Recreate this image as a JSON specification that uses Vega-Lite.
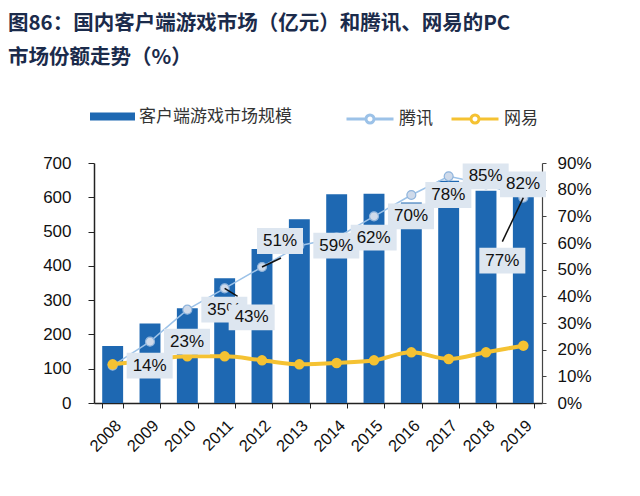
{
  "$schema": "https://vega.github.io/schema/vega-lite/v6.json",
  "width": 448,
  "height": 240,
  "autosize": {"type": "none"},
  "padding": {"left": 94, "top": 163, "right": 98, "bottom": 93},
  "background": "white",
  "config": {"font": "Liberation Sans", "view": {"stroke": null}},
  "title": {
    "text": ["图86：国内客户端游戏市场（亿元）和腾讯、网易的PC", "市场份额走势（%）"],
    "anchor": "start",
    "frame": "group",
    "dx": -86,
    "offset": 26,
    "font": "Noto Sans CJK SC",
    "fontSize": 20.5,
    "fontWeight": "bold",
    "color": "#1b2b4b",
    "lineHeight": 34
  },
  "datasets": {
    "market": [
      {"year": "2008", "market": 166},
      {"year": "2009", "market": 232},
      {"year": "2010", "market": 276},
      {"year": "2011", "market": 364},
      {"year": "2012", "market": 449},
      {"year": "2013", "market": 536},
      {"year": "2014", "market": 609},
      {"year": "2015", "market": 610},
      {"year": "2016", "market": 585},
      {"year": "2017", "market": 648},
      {"year": "2018", "market": 619},
      {"year": "2019", "market": 615}
    ],
    "share": [
      {"year": "2008", "company": "腾讯", "share": 14, "label": "14%"},
      {"year": "2009", "company": "腾讯", "share": 23, "label": "23%"},
      {"year": "2010", "company": "腾讯", "share": 35, "label": "35%"},
      {"year": "2011", "company": "腾讯", "share": 43, "label": "43%"},
      {"year": "2012", "company": "腾讯", "share": 51, "label": "51%"},
      {"year": "2013", "company": "腾讯", "share": 59, "label": "59%"},
      {"year": "2014", "company": "腾讯", "share": 62, "label": "62%"},
      {"year": "2015", "company": "腾讯", "share": 70, "label": "70%"},
      {"year": "2016", "company": "腾讯", "share": 78, "label": "78%"},
      {"year": "2017", "company": "腾讯", "share": 85, "label": "85%"},
      {"year": "2018", "company": "腾讯", "share": 82, "label": "82%"},
      {"year": "2019", "company": "腾讯", "share": 77, "label": "77%"},
      {"year": "2008", "company": "网易", "share": 14.5},
      {"year": "2009", "company": "网易", "share": 16},
      {"year": "2010", "company": "网易", "share": 17.5},
      {"year": "2011", "company": "网易", "share": 17.5},
      {"year": "2012", "company": "网易", "share": 16},
      {"year": "2013", "company": "网易", "share": 14.5},
      {"year": "2014", "company": "网易", "share": 15},
      {"year": "2015", "company": "网易", "share": 16},
      {"year": "2016", "company": "网易", "share": 19},
      {"year": "2017", "company": "网易", "share": 16.5},
      {"year": "2018", "company": "网易", "share": 19},
      {"year": "2019", "company": "网易", "share": 21.5}
    ]
  },
  "encoding": {
    "x": {
      "field": "year",
      "type": "ordinal",
      "scale": {"paddingInner": 0.44, "paddingOuter": 0.22},
      "axis": {
        "title": null,
        "labelAngle": -45,
        "labelFontSize": 16.5,
        "labelColor": "#111",
        "labelPadding": 9,
        "labelOverlap": false,
        "tickBand": "extent",
        "tickColor": "#222",
        "tickSize": 5,
        "domainColor": "#222",
        "domainWidth": 1.5
      }
    }
  },
  "layer": [
    {
      "data": {"name": "market"},
      "mark": {"type": "bar"},
      "encoding": {
        "y": {
          "field": "market",
          "type": "quantitative",
          "scale": {"domain": [0, 700]},
          "axis": {
            "title": null,
            "values": [0, 100, 200, 300, 400, 500, 600, 700],
            "grid": false,
            "labelOverlap": false,
            "labelFontSize": 17,
            "labelColor": "#111",
            "tickSize": 6,
            "labelPadding": 17,
            "tickColor": "#222",
            "domainColor": "#222",
            "domainWidth": 1.5
          }
        },
        "color": {
          "datum": "客户端游戏市场规模",
          "type": "nominal",
          "scale": {"range": ["#1e68b2"]},
          "legend": {
            "orient": "none",
            "legendX": -4,
            "legendY": -69,
            "title": null,
            "padding": 0,
            "symbolType": "M-1,-0.18H1V0.18H-1Z",
            "symbolSize": 2025,
            "symbolStrokeWidth": 0,
            "labelFontSize": 17,
            "labelFont": "Noto Sans CJK SC",
            "labelColor": "#333",
            "labelOffset": 4
          }
        }
      }
    },
    {
      "data": {"name": "share"},
      "encoding": {
        "y": {
          "field": "share",
          "type": "quantitative",
          "scale": {"domain": [0, 90], "nice": false},
          "axis": {
            "orient": "right",
            "title": null,
            "values": [0, 10, 20, 30, 40, 50, 60, 70, 80, 90],
            "labelExpr": "datum.value + '%'",
            "grid": false,
            "labelOverlap": false,
            "labelFontSize": 17,
            "labelColor": "#111",
            "tickSize": 4,
            "labelPadding": 11,
            "tickColor": "#444",
            "domainColor": "#444",
            "domainWidth": 1.2
          }
        }
      },
      "layer": [
        {
          "transform": [{"filter": "datum.company == '腾讯'"}],
          "mark": {"type": "line", "strokeWidth": 1.5},
          "encoding": {
            "color": {
              "field": "company",
              "type": "nominal",
              "scale": {"domain": ["腾讯", "网易"], "range": ["#9cc2e8", "#f5c232"]},
              "legend": {
                "orient": "none",
                "direction": "horizontal",
                "legendX": 251,
                "legendY": -69,
                "title": null,
                "padding": 0,
                "columnPadding": 12,
                "symbolType": "M-1,0H-0.17M0.17,0H1M0.17,0A0.17,0.17 0 1,1 -0.17,0A0.17,0.17 0 1,1 0.17,0",
                "symbolSize": 2209,
                "symbolStrokeWidth": 3,
                "labelFontSize": 17,
                "labelFont": "Noto Sans CJK SC",
                "labelColor": "#333",
                "labelOffset": 4
              }
            }
          }
        },
        {
          "transform": [{"filter": "datum.company == '网易'"}],
          "mark": {"type": "line", "strokeWidth": 4, "interpolate": "monotone"},
          "encoding": {
            "color": {"field": "company", "type": "nominal"}
          }
        },
        {
          "transform": [{"filter": "datum.company == '腾讯'"}],
          "mark": {"type": "point", "filled": true, "size": 80, "fill": "#cfdaea", "stroke": "#8fb4dc", "strokeWidth": 1.2, "opacity": 1}
        },
        {
          "transform": [{"filter": "datum.company == '网易'"}],
          "mark": {"type": "point", "filled": true, "size": 110, "color": "#f5c232", "opacity": 1}
        },
        {
          "transform": [{"filter": "datum.company == '腾讯' && datum.year == '2011'"}],
          "mark": {"type": "point", "filled": false, "shape": "M0,0L0.26,0.16", "size": 10000, "stroke": "#111", "strokeWidth": 1.5, "opacity": 1}
        },
        {
          "transform": [{"filter": "datum.company == '腾讯' && datum.year == '2012'"}],
          "mark": {"type": "point", "filled": false, "shape": "M0,0L0.38,-0.18", "size": 10000, "stroke": "#111", "strokeWidth": 1.5, "opacity": 1}
        },
        {
          "transform": [{"filter": "datum.company == '腾讯' && datum.year == '2019'"}],
          "mark": {"type": "point", "filled": false, "shape": "M0,0L-0.42,0.88", "size": 10000, "stroke": "#111", "strokeWidth": 1.5, "opacity": 1}
        },
        {
          "transform": [{"filter": "datum.company == '腾讯' && datum.year != '2011' && datum.year != '2012' && datum.year != '2019'"}],
          "mark": {"type": "point", "filled": true, "shape": "M-1,-0.56H1V0.56H-1Z", "size": 2116, "fill": "#dde6f0", "opacity": 1, "strokeWidth": 0, "xOffset": 37}
        },
        {
          "transform": [{"filter": "datum.company == '腾讯' && datum.year != '2011' && datum.year != '2012' && datum.year != '2019'"}],
          "mark": {"type": "text", "fontSize": 17, "color": "#111", "dx": 37, "baseline": "middle", "align": "center"},
          "encoding": {"text": {"field": "label"}}
        },
        {
          "transform": [{"filter": "datum.company == '腾讯' && datum.year == '2011'"}],
          "mark": {"type": "point", "filled": true, "shape": "M-1,-0.56H1V0.56H-1Z", "size": 2116, "fill": "#dde6f0", "opacity": 1, "strokeWidth": 0, "xOffset": 27, "yOffset": 29}
        },
        {
          "transform": [{"filter": "datum.company == '腾讯' && datum.year == '2011'"}],
          "mark": {"type": "text", "fontSize": 17, "color": "#111", "dx": 27, "dy": 29, "baseline": "middle", "align": "center"},
          "encoding": {"text": {"field": "label"}}
        },
        {
          "transform": [{"filter": "datum.company == '腾讯' && datum.year == '2012'"}],
          "mark": {"type": "point", "filled": true, "shape": "M-1,-0.56H1V0.56H-1Z", "size": 2116, "fill": "#dde6f0", "opacity": 1, "strokeWidth": 0, "xOffset": 18, "yOffset": -26}
        },
        {
          "transform": [{"filter": "datum.company == '腾讯' && datum.year == '2012'"}],
          "mark": {"type": "text", "fontSize": 17, "color": "#111", "dx": 18, "dy": -26, "baseline": "middle", "align": "center"},
          "encoding": {"text": {"field": "label"}}
        },
        {
          "transform": [{"filter": "datum.company == '腾讯' && datum.year == '2019'"}],
          "mark": {"type": "point", "filled": true, "shape": "M-1,-0.56H1V0.56H-1Z", "size": 2116, "fill": "#dde6f0", "opacity": 1, "strokeWidth": 0, "xOffset": -21, "yOffset": 63}
        },
        {
          "transform": [{"filter": "datum.company == '腾讯' && datum.year == '2019'"}],
          "mark": {"type": "text", "fontSize": 17, "color": "#111", "dx": -21, "dy": 63, "baseline": "middle", "align": "center"},
          "encoding": {"text": {"field": "label"}}
        }
      ]
    }
  ],
  "resolve": {"scale": {"y": "independent", "color": "independent"}}
}
